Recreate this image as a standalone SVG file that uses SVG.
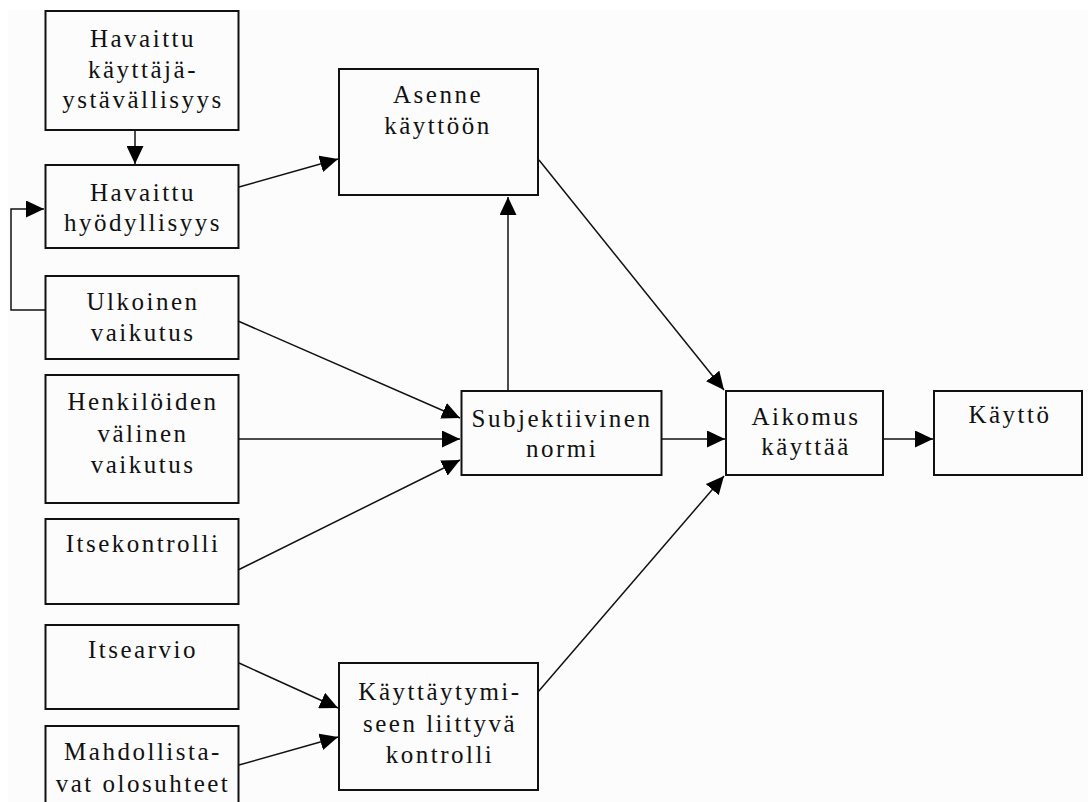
<svg xmlns="http://www.w3.org/2000/svg" width="1088" height="802" viewBox="0 0 1088 802">
<style>
.box{fill:none;stroke:#111;stroke-width:2}
.t{font-family:"Liberation Serif","DejaVu Serif",serif;font-size:25px;letter-spacing:2.5px;fill:#111;text-anchor:middle}
.c{fill:none;stroke:#111;stroke-width:1.5}
</style>
<defs>
<marker id="ah" markerUnits="userSpaceOnUse" markerWidth="19" markerHeight="17" refX="18" refY="8.5" orient="auto">
<path d="M0,0 L18,8.5 L0,17 z" fill="#000"/>
</marker>
</defs>
<rect x="0" y="0" width="1088" height="802" fill="#fff"/>
<rect x="8" y="10" width="1080" height="792" fill="#fcfcfc"/>

<g id="connectors">
<line class="c" x1="135" y1="130" x2="135" y2="164" marker-end="url(#ah)"/>
<line class="c" x1="239" y1="187" x2="338" y2="159" marker-end="url(#ah)"/>
<polyline class="c" points="45,310 11,310 11,209 44,209" marker-end="url(#ah)"/>
<line class="c" x1="238" y1="321" x2="460" y2="418" marker-end="url(#ah)"/>
<line class="c" x1="238" y1="439" x2="460" y2="439" marker-end="url(#ah)"/>
<line class="c" x1="238" y1="570" x2="460" y2="460" marker-end="url(#ah)"/>
<line class="c" x1="508" y1="391" x2="508" y2="197" marker-end="url(#ah)"/>
<line class="c" x1="539" y1="160" x2="724" y2="390" marker-end="url(#ah)"/>
<line class="c" x1="662" y1="439" x2="725" y2="439" marker-end="url(#ah)"/>
<line class="c" x1="538" y1="692" x2="724" y2="476" marker-end="url(#ah)"/>
<line class="c" x1="883" y1="439" x2="933" y2="439" marker-end="url(#ah)"/>
<line class="c" x1="239" y1="663" x2="338" y2="708" marker-end="url(#ah)"/>
<line class="c" x1="239" y1="765" x2="338" y2="737" marker-end="url(#ah)"/>
</g>

<g id="n1"><rect class="box" x="45.5" y="11" width="193" height="119"/>
<text class="t" x="143" y="47">Havaittu</text>
<text class="t" x="143" y="78">käyttäjä-</text>
<text class="t" x="143" y="108">ystävällisyys</text></g>

<g id="n2"><rect class="box" x="45.5" y="165" width="193" height="83"/>
<text class="t" x="143" y="201">Havaittu</text>
<text class="t" x="143" y="231">hyödyllisyys</text></g>

<g id="n3"><rect class="box" x="45.5" y="276" width="193" height="83"/>
<text class="t" x="143" y="310">Ulkoinen</text>
<text class="t" x="143" y="341">vaikutus</text></g>

<g id="n4"><rect class="box" x="45.5" y="375" width="193" height="128"/>
<text class="t" x="143" y="410">Henkilöiden</text>
<text class="t" x="143" y="442">välinen</text>
<text class="t" x="143" y="473">vaikutus</text></g>

<g id="n5"><rect class="box" x="45.5" y="519" width="193" height="85"/>
<text class="t" x="143" y="552">Itsekontrolli</text></g>

<g id="n6"><rect class="box" x="45.5" y="625" width="193" height="84"/>
<text class="t" x="143" y="658">Itsearvio</text></g>

<g id="n7"><rect class="box" x="45.5" y="726" width="193" height="100"/>
<text class="t" x="143" y="760">Mahdollista-</text>
<text class="t" x="143" y="792">vat olosuhteet</text></g>

<g id="n8"><rect class="box" x="339" y="69" width="199" height="126"/>
<text class="t" x="438" y="103">Asenne</text>
<text class="t" x="438" y="134">käyttöön</text></g>

<g id="n9"><rect class="box" x="461.5" y="391" width="200" height="84"/>
<text class="t" x="562" y="427">Subjektiivinen</text>
<text class="t" x="562" y="457">normi</text></g>

<g id="n10"><rect class="box" x="726" y="391" width="157" height="84"/>
<text class="t" x="806" y="425">Aikomus</text>
<text class="t" x="806" y="455">käyttää</text></g>

<g id="n11"><rect class="box" x="934" y="391" width="148" height="84"/>
<text class="t" x="1010" y="423">Käyttö</text></g>

<g id="n12"><rect class="box" x="339" y="663" width="199" height="127"/>
<text class="t" x="440" y="700">Käyttäytymi-</text>
<text class="t" x="440" y="732">seen liittyvä</text>
<text class="t" x="440" y="763">kontrolli</text></g>
</svg>
